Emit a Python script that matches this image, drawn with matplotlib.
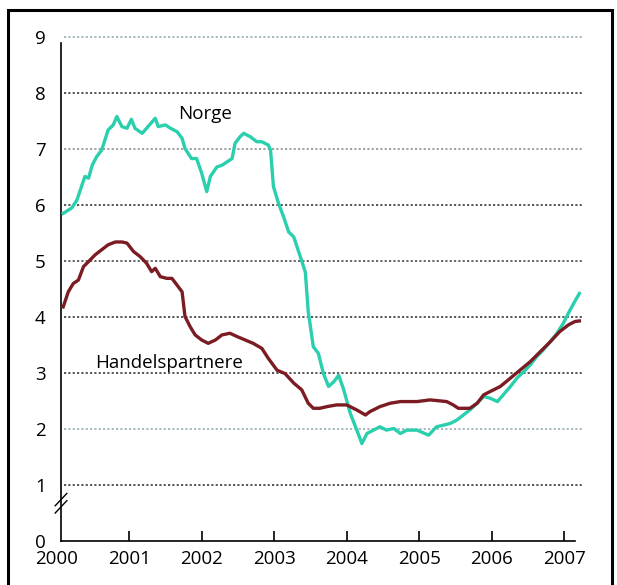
import numpy as np
import matplotlib.pyplot as plt
from matplotlib.patches import Rectangle

plt.rcParams['font.family'] = ['Open Sans', 'DejaVu Sans']

# Norge (teal)
norge_x = [2000.09, 2000.21, 2000.28, 2000.35, 2000.39, 2000.44, 2000.49, 2000.55, 2000.62, 2000.71,
           2000.78, 2000.83, 2000.90, 2000.97, 2001.03, 2001.08, 2001.18, 2001.24, 2001.36, 2001.40,
           2001.50, 2001.57, 2001.66, 2001.73, 2001.77, 2001.86, 2001.93, 2002.00, 2002.07, 2002.12,
           2002.21, 2002.28, 2002.35, 2002.42, 2002.46, 2002.53, 2002.58, 2002.67, 2002.76, 2002.83,
           2002.92, 2002.95, 2002.99, 2003.06, 2003.13, 2003.20, 2003.27, 2003.36, 2003.43, 2003.47,
           2003.54, 2003.61, 2003.68, 2003.75, 2003.82, 2003.89, 2003.96, 2004.05, 2004.14, 2004.21,
           2004.28, 2004.37, 2004.46, 2004.55, 2004.65, 2004.74, 2004.83, 2004.97, 2005.13, 2005.24,
           2005.34, 2005.43, 2005.52, 2005.61, 2005.70, 2005.80, 2005.89, 2005.98, 2006.08, 2006.16,
           2006.26, 2006.35, 2006.44, 2006.53, 2006.62, 2006.71, 2006.81, 2006.90, 2006.99, 2007.06,
           2007.13, 2007.21]
norge_y = [5.85, 5.95, 6.09, 6.36, 6.51, 6.48, 6.71, 6.86, 6.98, 7.34,
           7.43, 7.58, 7.40, 7.37, 7.53, 7.37, 7.28, 7.37, 7.55, 7.40,
           7.43, 7.37, 7.31, 7.19, 7.01, 6.83, 6.83, 6.57, 6.24, 6.51,
           6.68, 6.71, 6.77, 6.83, 7.10, 7.22, 7.28, 7.22, 7.13, 7.13,
           7.07, 6.98, 6.33, 6.03, 5.79, 5.52, 5.43, 5.08, 4.80, 4.10,
           3.47, 3.35, 2.99, 2.76, 2.84, 2.96, 2.70, 2.28, 1.98, 1.74,
           1.92, 1.98, 2.04, 1.98, 2.01, 1.92, 1.98, 1.98, 1.89, 2.04,
           2.07, 2.10, 2.16, 2.25, 2.34, 2.46, 2.58, 2.55, 2.49, 2.61,
           2.76, 2.91, 3.02, 3.14, 3.29, 3.41, 3.56, 3.71, 3.89, 4.07,
           4.24, 4.42]

# Handelspartnere (dark red)
handel_x = [2000.09, 2000.16, 2000.23, 2000.30, 2000.37, 2000.44, 2000.53, 2000.62, 2000.71, 2000.81,
            2000.90, 2000.97, 2001.06, 2001.15, 2001.24, 2001.31, 2001.36, 2001.43, 2001.52, 2001.59,
            2001.66, 2001.73, 2001.77, 2001.84, 2001.91, 2002.00, 2002.09, 2002.19, 2002.28, 2002.39,
            2002.49, 2002.60, 2002.71, 2002.83, 2002.92, 2003.04, 2003.15, 2003.27, 2003.38, 2003.47,
            2003.54, 2003.63, 2003.73, 2003.86, 2004.00, 2004.14, 2004.26, 2004.32, 2004.46, 2004.60,
            2004.74, 2004.97, 2005.15, 2005.38, 2005.47, 2005.54, 2005.70, 2005.80, 2005.89, 2005.98,
            2006.12, 2006.26, 2006.39, 2006.53, 2006.67, 2006.81, 2006.94, 2007.06, 2007.15, 2007.21]
handel_y = [4.18, 4.45, 4.60, 4.66, 4.90, 4.99, 5.11, 5.20, 5.29, 5.34,
            5.34, 5.32, 5.17, 5.08, 4.96, 4.81, 4.87, 4.72, 4.69, 4.69,
            4.57, 4.45, 4.01, 3.83, 3.68, 3.59, 3.53, 3.59, 3.68, 3.71,
            3.65, 3.59, 3.53, 3.44, 3.26, 3.05, 2.99, 2.82, 2.70, 2.46,
            2.37, 2.37, 2.40, 2.43, 2.43, 2.34, 2.25, 2.31, 2.40, 2.46,
            2.49, 2.49, 2.52, 2.49, 2.43, 2.37, 2.37, 2.46, 2.61, 2.67,
            2.76, 2.91, 3.05, 3.20, 3.38, 3.56, 3.74, 3.86, 3.92, 3.93]

grid_levels = [1, 2, 3, 4, 5, 6, 7, 8, 9]
grid_colors = ['#4a4a4a', '#9fb3bb', '#4a4a4a', '#4a4a4a', '#5a5a5a',
               '#4a4a4a', '#9a9a9a', '#4a4a4a', '#9fb3bb']
year_ticks = [2001, 2002, 2003, 2004, 2005, 2006, 2007]

fig = plt.figure(figsize=(6.17, 5.85), dpi=100)
ax = fig.add_axes([0.0989, 0.0752, 0.8448, 0.8711])

# gridlines
for lev, c in zip(grid_levels, grid_colors):
    ax.hlines(lev, 2000.10, 2007.25, colors=c, linestyles=(0, (1.2, 1.2)), lw=1.3, zorder=1)

ax.plot(norge_x, norge_y, color='#2acfae', lw=2.4, zorder=3)
ax.plot(handel_x, handel_y, color='#7b1c22', lw=2.4, zorder=3)

ax.text(2002.05, 7.62, 'Norge', fontsize=13.5, ha='center', va='center')
ax.text(2001.55, 3.18, 'Handelspartnere', fontsize=13.5, ha='center', va='center')

ax.set_xlim(2000.06, 2007.25)
ax.set_ylim(0, 9.1)
ax.spines['top'].set_visible(False)
ax.spines['right'].set_visible(False)
ax.spines['left'].set_bounds(0, 8.9)
ax.spines['bottom'].set_bounds(2000.06, 2007.15)
ax.spines['left'].set_linewidth(1.2)
ax.spines['bottom'].set_linewidth(1.2)

ax.set_yticks(range(0, 10))
ax.tick_params(axis='y', length=0, pad=11, labelsize=13.5)
ax.set_xticks(year_ticks)
ax.tick_params(axis='x', direction='in', length=7, width=1.2, pad=6.5, labelsize=13.5)
# first year label sits left of the axis start
ax.annotate('2000', xy=(2000.0, 0), xytext=(0, -6.5), textcoords='offset points',
            fontsize=13.5, ha='center', va='top', annotation_clip=False)

# axis break marks
for dy in [0.0, 0.13]:
    ax.plot([1999.98, 2000.14], [0.50 + dy, 0.72 + dy], color='black', lw=1.0, clip_on=False)

# frame around the figure
fig.add_artist(Rectangle((8 / 617, -0.05), (612 - 8) / 617, 1.05 - 10 / 585,
                         transform=fig.transFigure, fill=False, lw=2.2, ec='black'))

fig.savefig('out.png', dpi=100)
